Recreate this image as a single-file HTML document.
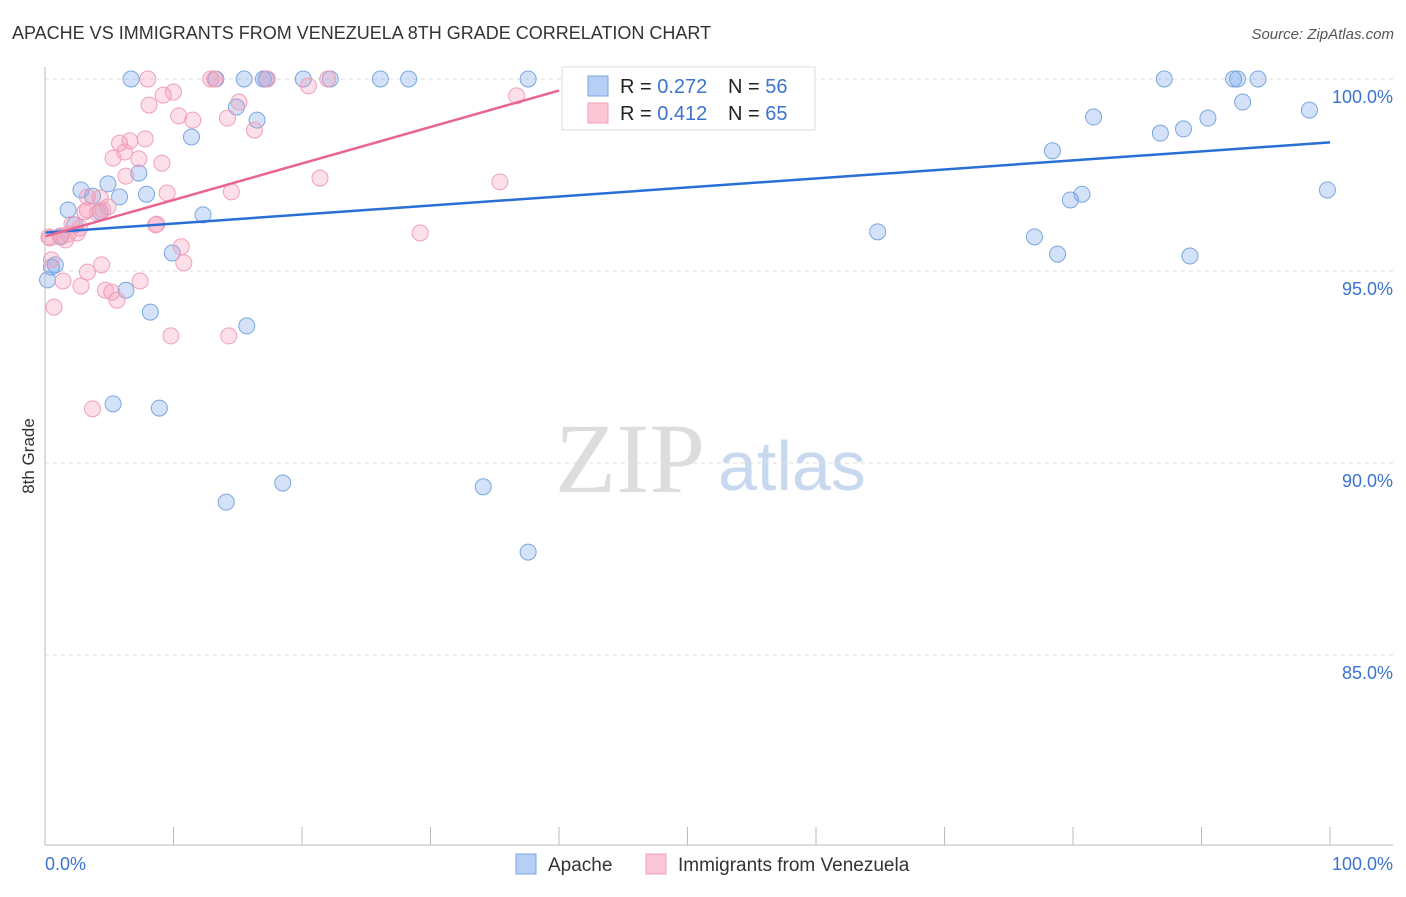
<!DOCTYPE html>
<html><head><meta charset="utf-8"><style>
body{margin:0;background:#fff;font-family:"Liberation Sans",sans-serif}
</style></head><body>
<svg id="chart" width="1406" height="892" xmlns="http://www.w3.org/2000/svg" style="font-family:'Liberation Sans',sans-serif">
<text x="12" y="39" font-size="18" fill="#333">APACHE VS IMMIGRANTS FROM VENEZUELA 8TH GRADE CORRELATION CHART</text>
<text x="1394" y="39" font-size="15" fill="#555" font-style="italic" text-anchor="end">Source: ZipAtlas.com</text>
<text x="34" y="456" font-size="17" fill="#333" text-anchor="middle" transform="rotate(-90 34 456)">8th Grade</text>
<text x="555" y="492" font-size="100" fill="#ddd" font-family="Liberation Serif">ZIP</text>
<text x="718" y="490" font-size="70" fill="#c8d8ee">atlas</text>
<g id="grid"></g><g id="ticks"></g><g id="pts"></g><g id="lines"></g>
<line x1="45" y1="67" x2="45" y2="845" stroke="#bbb"/>
<line x1="45" y1="845" x2="1393" y2="845" stroke="#bbb"/>
<text x="45" y="870" font-size="18" fill="#3b73d1">0.0%</text>
<text x="1393" y="870" font-size="18" fill="#3b73d1" text-anchor="end">100.0%</text>
<g>
<rect x="562" y="67" width="253" height="63" fill="#fff" stroke="#ddd"/>
<rect x="588" y="76" width="20" height="20" fill="#b5cff5" stroke="#7aa6e0"/>
<rect x="588" y="103" width="20" height="20" fill="#fbc6d6" stroke="#f0a0b8"/>
<text x="620" y="93" font-size="20" fill="#222">R = <tspan fill="#3b73d1">0.272</tspan><tspan x="728">N = </tspan><tspan fill="#3b73d1">56</tspan></text>
<text x="620" y="120" font-size="20" fill="#222">R = <tspan fill="#3b73d1">0.412</tspan><tspan x="728">N = </tspan><tspan fill="#3b73d1">65</tspan></text>
</g>
<g>
<rect x="516" y="854" width="20" height="20" fill="#b5cff5" stroke="#7aa6e0"/>
<text x="548" y="871" font-size="19" fill="#333">Apache</text>
<rect x="646" y="854" width="20" height="20" fill="#fbc6d6" stroke="#f0a0b8"/>
<text x="678" y="871" font-size="19" fill="#333">Immigrants from Venezuela</text>
</g>
</svg>
<script>
const yTicks=[100,95,90,85];
const xTickCount=10;
const blueX=[6.7,13.3,15.5,17.0,17.2,20.1,22.2,26.1,28.3,37.6,43.0,87.1,92.5,92.8,94.4,14.9,16.5,11.4,7.3,4.9,2.8,3.7,5.8,7.9,1.8,12.3,2.3,1.2,0.5,9.9,6.3,8.2,15.7,5.3,8.9,14.1,18.5,34.1,37.6,64.8,77.0,78.8,89.1,79.8,80.7,78.4,81.6,86.8,88.6,90.5,93.2,98.4,99.8,0.2,0.8,4.3];
const blueY=[100,100,100,100,100,100,100,100,100,100,100,100,100,100,100,99.27,98.93,98.49,97.55,97.27,97.11,96.95,96.93,97.0,96.59,96.46,96.2,95.89,95.1,95.47,94.5,93.93,93.57,91.54,91.43,88.98,89.48,89.38,87.68,96.02,95.89,95.44,95.39,96.85,97.0,98.13,99.01,98.59,98.7,98.98,99.4,99.19,97.11,94.77,95.16,96.54];
const pinkX=[8.0,12.9,13.2,17.3,22.0,20.5,10.0,9.2,8.1,15.1,36.7,14.2,10.4,11.5,16.3,7.8,5.8,6.6,6.2,5.3,7.3,9.1,6.3,21.4,35.4,3.3,9.5,14.5,4.3,4.9,3.3,4.1,4.5,2.1,2.7,1.2,1.8,2.5,0.3,8.7,8.6,29.2,10.6,10.8,4.4,3.3,7.4,1.4,2.8,5.2,5.6,0.7,9.8,14.3,3.7,0.4,3.1,0.5,1.6,4.7];
const pinkY=[100,100,100,100,100,99.82,99.66,99.58,99.32,99.4,99.56,98.98,99.04,98.93,98.67,98.44,98.33,98.39,98.1,97.94,97.92,97.81,97.47,97.42,97.32,96.93,97.03,97.06,96.9,96.67,96.59,96.51,96.59,96.22,96.12,95.91,95.96,95.99,95.89,96.22,96.2,95.99,95.63,95.21,95.16,94.97,94.74,94.74,94.61,94.45,94.24,94.06,93.31,93.31,91.41,95.86,96.54,95.29,95.81,94.5];
const blueLine=[96.0,98.35];
const pinkLine=[[0,95.9],[40,99.7]];
const X=v=>45+v*12.85, Y=v=>79+(100-v)*38.4;
const NS="http://www.w3.org/2000/svg";
function mk(tag,attrs,parent){const e=document.createElementNS(NS,tag);for(const k in attrs)e.setAttribute(k,attrs[k]);document.getElementById(parent).appendChild(e);return e;}
yTicks.forEach(t=>{
 const l=mk('line',{x1:45,x2:1393,y1:Y(t),y2:Y(t),stroke:'#ddd','stroke-dasharray':'4,4'},'grid');
 
 
 const tx=mk('text',{x:1393,y:Y(t)+24,'font-size':18,fill:'#3b73d1','text-anchor':'end'},'grid');
 tx.textContent=t.toFixed(1)+'%';
 
 
});
for(let i=0;i<=xTickCount;i++){
 const l=mk('line',{x1:X(i*10),x2:X(i*10),y1:827,y2:845,stroke:'#bbb'},'ticks');
 
 
}
blueX.forEach((v,i)=>{
 const c=mk('circle',{cx:X(v),cy:Y(blueY[i]),r:8,fill:'rgba(110,160,235,0.3)',stroke:'#7aa6e0','stroke-width':1},'pts');
 
 
});
pinkX.forEach((v,i)=>{
 const c=mk('circle',{cx:X(v),cy:Y(pinkY[i]),r:8,fill:'rgba(245,150,180,0.3)',stroke:'#f0a0b8','stroke-width':1},'pts');
 
 
});
const bl=mk('line',{x1:X(0),y1:Y(blueLine[0]),x2:X(100),y2:Y(blueLine[1]),stroke:'#2a6fd6','stroke-width':2.5},'lines');


const pl=mk('line',{x1:X(pinkLine[0][0]),y1:Y(pinkLine[0][1]),x2:X(pinkLine[1][0]),y2:Y(pinkLine[1][1]),stroke:'#e8658f','stroke-width':2.5},'lines');


</script>
</body></html>
